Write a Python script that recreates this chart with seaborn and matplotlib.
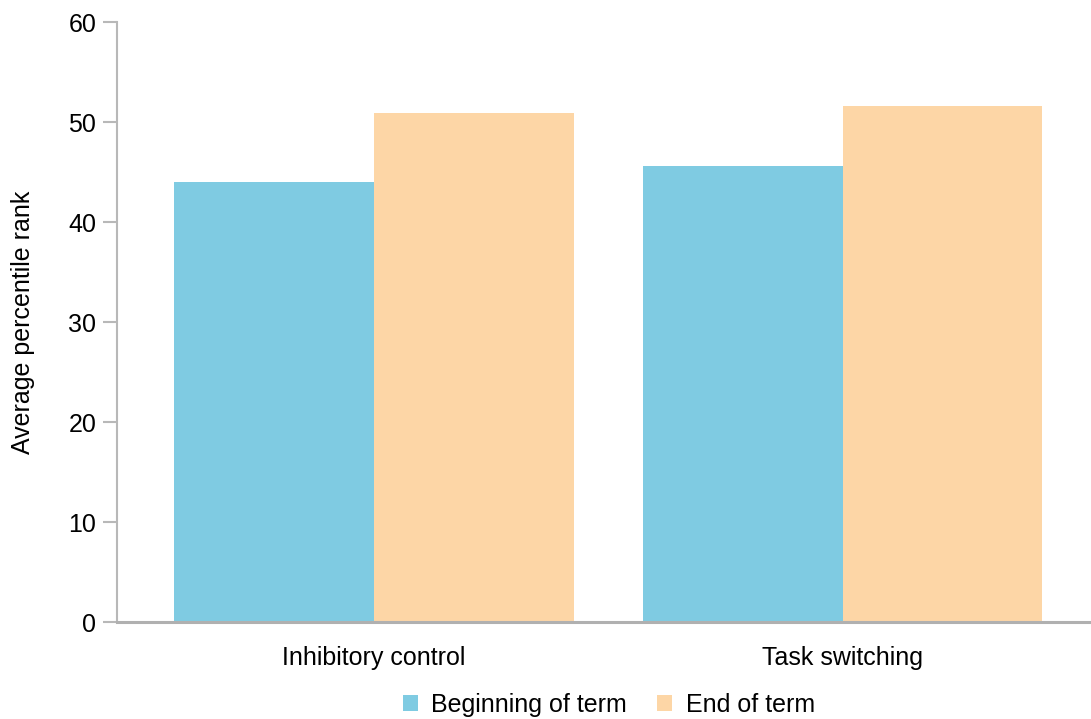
import pandas as pd
import seaborn as sns
import matplotlib.pyplot as plt

# data
measures = ['Inhibitory control', 'Task switching']
beginning = [44.0, 45.6]
end = [50.9, 51.6]
periods = ['Beginning of term', 'End of term']
colors = ['#7fcbe2', '#fdd6a6']

df = pd.DataFrame({
    'measure': measures * 2,
    'period': [periods[0]] * 2 + [periods[1]] * 2,
    'rank': beginning + end,
})

sns.set_style('white')
plt.rcParams['font.family'] = ['Liberation Sans', 'DejaVu Sans']
plt.rcParams['text.color'] = 'black'
plt.rcParams['axes.labelcolor'] = 'black'
plt.rcParams['xtick.color'] = 'black'
plt.rcParams['ytick.color'] = 'black'

fig = plt.figure(figsize=(10.91, 7.19), dpi=100)
ax = fig.add_axes([117 / 1091, 1 - 622 / 719, 1 - 117 / 1091, 600 / 719])

sns.barplot(data=df, x='measure', y='rank', hue='period', hue_order=periods,
            palette=colors, width=0.853, saturation=1, linewidth=0,
            edgecolor='none', ax=ax, legend=True)

ax.set_xlim(-0.548, 1.53)
ax.set_ylim(0, 60)
ax.set_yticks(range(0, 61, 10))
ax.set_xlabel('')
ax.set_ylabel('Average percentile rank', fontsize=18, labelpad=24)

for s in ['top', 'right']:
    ax.spines[s].set_visible(False)
ax.spines['left'].set_color('#b8b8b8')
ax.spines['left'].set_linewidth(1.5)
ax.spines['bottom'].set_color('#b0b0b0')
ax.spines['bottom'].set_linewidth(2.2)

ax.tick_params(axis='y', left=True, length=10, width=1.5, color='#b8b8b8',
               labelcolor='black', labelsize=18, pad=5)
ax.tick_params(axis='x', length=0, labelsize=18, pad=17, labelcolor='black')

ax.legend(loc='center', bbox_to_anchor=(0.505, -0.138), ncol=2, frameon=False,
          fontsize=18, handlelength=0.6, handleheight=0.6, handletextpad=0.55,
          columnspacing=1.2, borderaxespad=0, borderpad=0)

fig.savefig('out.png', dpi=100)
